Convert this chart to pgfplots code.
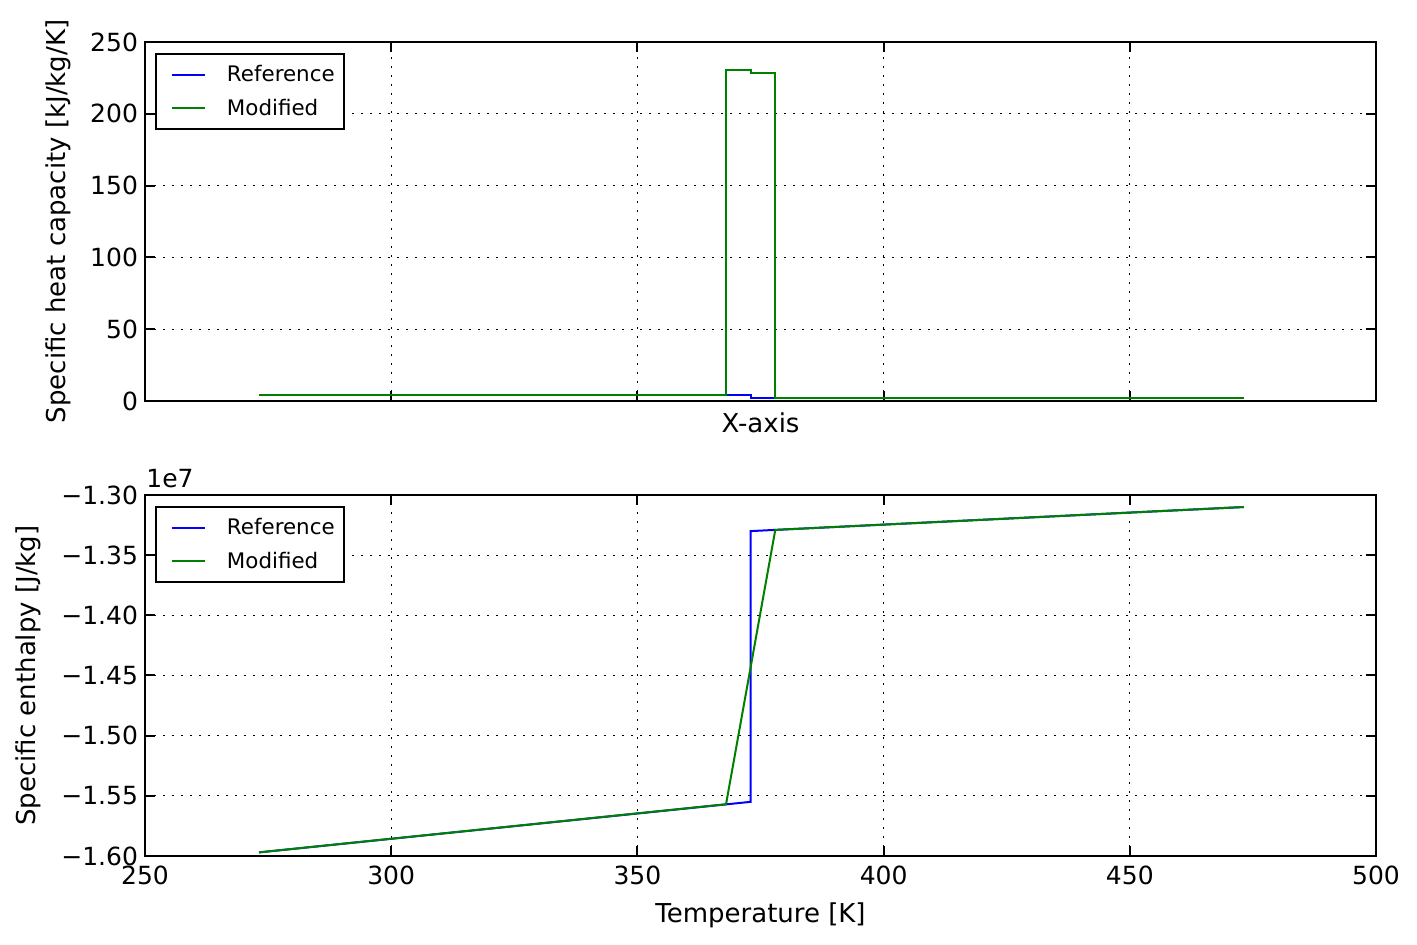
\documentclass[border=0pt]{standalone}
\usepackage{fontspec}
\setmainfont{DejaVu Sans}
\usepackage{pgfplots}
\pgfplotsset{compat=1.18}
\definecolor{mplblue}{rgb}{0,0,1}
\definecolor{mplgreen}{rgb}{0,0.5,0}
\begin{document}
\begin{tikzpicture}
\path[use as bounding box] (0,0) rectangle (708.5pt,472.5pt);
\pgfplotsset{
  common/.style={
    scale only axis, width=615.5pt,
    xmin=250, xmax=500,
    xtick={250,300,350,400,450,500},
    grid=major,
    major grid style={black, line width=0.5pt, dash pattern=on 1pt off 3.5pt},
    axis line style={line width=1pt},
    major tick style={black, line width=1pt},
    tick align=inside, major tick length=5pt,
    ticklabel style={font=\fontsize{12.5}{15}\selectfont},
    xticklabel style={yshift=-1.5pt},
    label style={font=\fontsize{13}{16}\selectfont},
    legend style={at={(axis description cs:0.0081,0.969)}, anchor=north west,
      draw=black, line width=1pt, fill=white,
      font=\fontsize{10.7}{12.5}\selectfont,
      inner xsep=2.5pt, inner ysep=3.4pt, row sep=3.3pt, column sep=8.5pt,
      nodes={inner sep=2pt}},
    legend cell align=left,
    legend image code/.code={\path (0pt,0pt); \draw[##1, line width=1pt] (5pt,0pt) -- (21.5pt,0pt);},
  }
}
% Top axis
\begin{axis}[common,
  at={(72.5pt,272pt)}, anchor=south west,
  height=179.5pt,
  ymin=0, ymax=250,
  ytick={0,50,100,150,200,250},
  yticklabels={0,50,100,150,200,250},
  xticklabels={},
  xlabel={X-axis},
  ylabel={Specific heat capacity [kJ/kg/K]},
  xlabel style={at={(axis description cs:0.5,-0.061)}, anchor=center},
  ylabel style={at={(axis description cs:-0.0707,0.5)}, anchor=center},
]
\addplot[mplblue, line width=1pt] coordinates {
  (273.15,4.3) (373,4.3) (373,2.1) (473.15,2.1)
};
\addlegendentry{Reference}
\addplot[mplgreen, line width=1pt] coordinates {
  (273.15,4.3) (368,4.3) (368,230.5) (373,230.5) (373,228.4) (378,228.4) (378,2.1) (473.15,2.1)
};
\addlegendentry{Modified}
\end{axis}
% Bottom axis
\begin{axis}[common, name=bot,
  at={(72.5pt,44.5pt)}, anchor=south west,
  height=180.5pt,
  ymin=-1.60, ymax=-1.30,
  ytick={-1.6,-1.55,-1.5,-1.45,-1.4,-1.35,-1.3},
  yticklabels={−1.60,−1.55,−1.50,−1.45,−1.40,−1.35,−1.30},
  xticklabels={250,300,350,400,450,500},
  xlabel={Temperature [K]},
  ylabel={Specific enthalpy [J/kg]},
  xlabel style={at={(axis description cs:0.5,-0.163)}, anchor=center},
  ylabel style={at={(axis description cs:-0.095,0.5)}, anchor=center},
]
\addplot[mplblue, line width=1pt] coordinates {
  (273.15,-1.597) (373,-1.555) (373,-1.330) (473.15,-1.310)
};
\addlegendentry{Reference}
\addplot[mplgreen, line width=1pt] coordinates {
  (273.15,-1.597) (368,-1.557) (378,-1.329) (473.15,-1.310)
};
\addlegendentry{Modified}
\end{axis}
\node[anchor=base west, inner sep=0pt, font=\fontsize{12.5}{15}\selectfont] at ([xshift=0.5pt,yshift=3.5pt]bot.north west) {1e7};
\end{tikzpicture}
\end{document}
